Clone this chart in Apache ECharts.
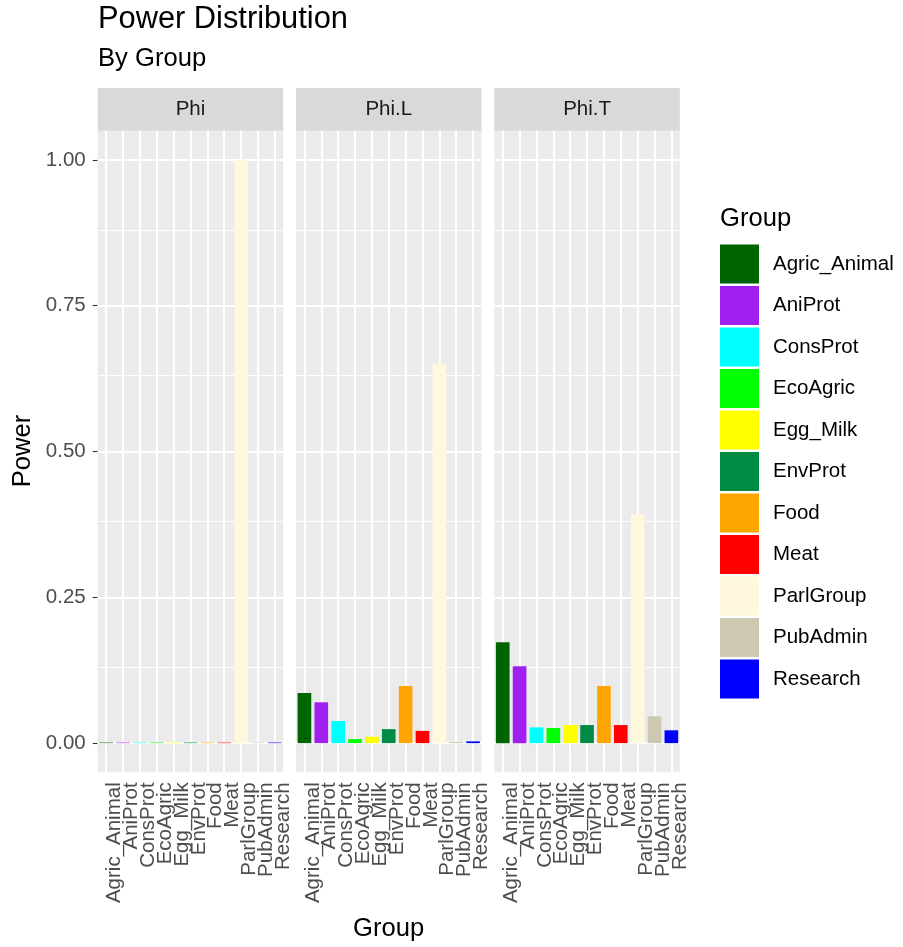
<!DOCTYPE html>
<html>
<head>
<meta charset="utf-8">
<script src="https://cdn.jsdelivr.net/npm/echarts@6/dist/echarts.min.js"></script>
<style>html,body{margin:0;padding:0;background:#fff}#c{width:903px;height:947px}</style>
</head>
<body>
<div id="c"></div>
<script>
const categories = ['Agric_Animal','AniProt','ConsProt','EcoAgric','Egg_Milk','EnvProt','Food','Meat','ParlGroup','PubAdmin','Research'];
const groupColors = ['#006400','#A020F0','#00FFFF','#00FF00','#FFFF00','#008B45','#FFA500','#FF0000','#FFF8DC','#CDC8B1','#0000FF'];
const panelNames = ['Phi','Phi.L','Phi.T'];
const phi  = [0.001,0.001,0.001,0.001,0.001,0.001,0.001,0.001,1.000,0.001,0.001];
const phiL = [0.086,0.070,0.038,0.007,0.011,0.024,0.098,0.021,0.651,0.002,0.003];
const phiT = [0.173,0.132,0.027,0.026,0.031,0.031,0.098,0.031,0.392,0.046,0.022];
const yTicks = [0,0.25,0.5,0.75,1];
const yMinor = [0.125,0.375,0.625,0.875];

const panelValues = [phi, phiL, phiT];
const FONT = '"Liberation Sans", Arial, Helvetica, sans-serif';
const gridLefts = [97.7, 296, 494.3];
const gridW = 185.5, gridTop = 130.7, gridH = 641.6;

const chart = echarts.init(document.getElementById('c'), null, {renderer:'canvas'});

const grids = [], xAxes = [], yAxes = [], series = [], graphics = [];
panelNames.forEach((pn, p) => {
  grids.push({left: gridLefts[p], top: gridTop, width: gridW, height: gridH, show: true,
    backgroundColor: '#EBEBEB', borderWidth: 0, containLabel: false});
  xAxes.push({type:'category', gridIndex:p, data: categories,
    axisLine:{show:false},
    axisTick:{show:true, alignWithLabel:true, interval:0, length:5, lineStyle:{color:'#333333', width:1.1}},
    axisLabel:{show:true, interval:0, rotate:90, margin:10, fontSize:20.5, lineHeight:17, color:'#4D4D4D', fontFamily:FONT,
      align:'right', verticalAlign:'top'},
    splitLine:{show:false}});
  yAxes.push({type:'value', gridIndex:p, min:-0.05, max:1.05,
    axisLine:{show:false},
    axisTick:{show:p===0, length:5, customValues: yTicks, lineStyle:{color:'#333333', width:1.1}},
    axisLabel:{show:p===0, margin:12, fontSize:20.5, color:'#4D4D4D', fontFamily:FONT,
      customValues: yTicks, formatter: v => v.toFixed(2)},
    splitLine:{show:false}});
  const ml = [];
  yMinor.forEach(v => ml.push({yAxis: v, lineStyle:{width:1.1}}));
  yTicks.forEach(v => ml.push({yAxis: v, lineStyle:{width:2.1}}));
  categories.forEach(c => ml.push({xAxis: c, lineStyle:{width:2.1}}));
  series.push({type:'line', xAxisIndex:p, yAxisIndex:p, data:[], z:1, silent:true,
    markLine:{silent:true, z:1, symbol:['none','none'], label:{show:false}, animation:false,
      lineStyle:{color:'#FFFFFF', type:'solid'}, emphasis:{disabled:true}, data: ml}});
  const vals = panelValues[p];
  categories.forEach((c, k) => {
    series.push({type:'bar', name:c, xAxisIndex:p, yAxisIndex:p, stack:'panel'+p, barWidth:'81%', z:3,
      itemStyle:{color: groupColors[k]}, animation:false,
      data: categories.map((cc, i) => i === k ? vals[i] : '-')});
  });
  graphics.push({type:'rect', shape:{x:gridLefts[p], y:88, width:gridW, height:gridTop-88}, style:{fill:'#D9D9D9'}, silent:true});
  graphics.push({type:'text', x:gridLefts[p]+gridW/2, y:109.5, style:{text:pn, font:'20.5px '+FONT, fill:'#1A1A1A', textAlign:'center', textVerticalAlign:'middle'}, silent:true});
});

graphics.push({type:'text', x:23, y:451, rotation:Math.PI/2, style:{text:'Power', font:'25.6px '+FONT, fill:'#000', textAlign:'center', textVerticalAlign:'middle'}, silent:true});
graphics.push({type:'text', x:388.6, y:929, style:{text:'Group', font:'25.6px '+FONT, fill:'#000', textAlign:'center', textVerticalAlign:'middle'}, silent:true});
graphics.push({type:'text', x:720, y:219, style:{text:'Group', font:'25.6px '+FONT, fill:'#000', textAlign:'left', textVerticalAlign:'middle'}, silent:true});
graphics.push({type:'text', x:98, y:20, style:{text:'Power Distribution', font:'30.8px '+FONT, fill:'#000', textAlign:'left', textVerticalAlign:'middle'}, silent:true});
graphics.push({type:'text', x:98, y:58.7, style:{text:'By Group', font:'25.6px '+FONT, fill:'#000', textAlign:'left', textVerticalAlign:'middle'}, silent:true});

chart.setOption({
  animation:false,
  textStyle:{fontFamily:FONT},
  grid: grids, xAxis: xAxes, yAxis: yAxes, series: series,
  legend:{show:true, orient:'vertical', left:720, top:244.5, padding:0, itemWidth:39, itemHeight:39, itemGap:2.5,
    icon:'rect', selectedMode:false, data: categories,
    textStyle:{fontSize:20.5, color:'#000', fontFamily:FONT, padding:[0,0,0,9]}},
  graphic: graphics
});
</script>
</body>
</html>
